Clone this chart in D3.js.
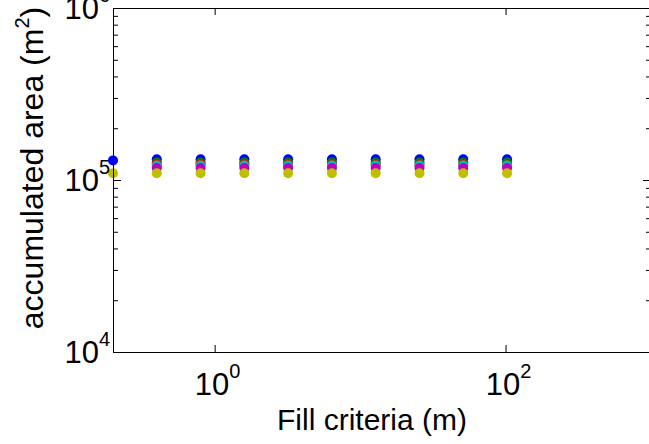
<!DOCTYPE html>
<html>
<head>
<meta charset="utf-8">
<script src="https://cdn.jsdelivr.net/npm/d3@7"></script>
<style>
html, body { margin: 0; padding: 0; background: #fff; overflow: hidden; }
svg text { font-family: "Liberation Sans", Arial, Helvetica, sans-serif; fill: #000; }
</style>
</head>
<body>
<script>
// data: fill criteria (m) vs accumulated area (m^2)
var fill_criteria = [0.2, 0.4, 0.8, 1.6, 3.2, 6.4, 12.8, 25.6, 51.2, 102.4];
var area_blue    = [130000, 132000, 132000, 132000, 132000, 132000, 132000, 132000, 132000, 132000];
var area_green   = [null, 126500, 126500, 126500, 126500, 126500, 126500, 126500, 126500, 126500];
var area_red     = [null, 124000, 124000, 123500, 122500, 122500, 122500, 122500, 122500, 122000];
var area_cyan    = [null, 121500, 121500, 121500, 121500, 121500, 121500, 121500, 121500, 121500];
var area_magenta = [null, 117500, 117500, 117500, 117500, 117500, 117500, 117500, 117500, 117500];
var area_yellow  = [109500, 109500, 109500, 109500, 109500, 109500, 109500, 109500, 109500, 109500];

var series_list = [area_blue, area_green, area_red, area_cyan, area_magenta, area_yellow];
var series_colors = ["#0000ff", "#008000", "#ff0000", "#00bfbf", "#bf00bf", "#bfbf00"];

// ticks
var x_major_ticks = [1, 100];
var y_major_ticks = [1e4, 1e5, 1e6];
var y_minor_ticks = [2e4, 3e4, 4e4, 5e4, 6e4, 7e4, 8e4, 9e4, 2e5, 3e5, 4e5, 5e5, 6e5, 7e5, 8e5, 9e5];

var x_label = "Fill criteria (m)";
var y_label = "accumulated area (m";

// layout
var svg_width = 649;
var svg_height = 444;
var plot_left = 113, plot_right = 651, plot_top = 8, plot_bottom = 352;

var svg = d3.select("body").append("svg")
    .attr("width", svg_width).attr("height", svg_height);

var x = d3.scaleLog().domain([0.2, 1000]).range([plot_left, plot_right]);
var y = d3.scaleLog().domain([1e4, 1e6]).range([plot_bottom, plot_top]);

// points, series drawn in order so later ones sit on top
series_list.forEach(function(vals, si) {
    var pts = fill_criteria.map(function(fc, i) { return [fc, vals[i]]; })
        .filter(function(d) { return d[1] != null; });
    svg.append("g").selectAll("circle")
        .data(pts)
        .enter()
        .append("circle")
        .attr("cx", function(d) { return x(d[0]); })
        .attr("cy", function(d) { return y(d[1]); })
        .attr("r", 5)
        .attr("fill", series_colors[si]);
});

// axes (ticks point inward, like matlab)
function style_axis(g) {
    g.attr("color", "#000");
    g.selectAll("path, line").attr("stroke", "#000").attr("stroke-width", 1);
    g.selectAll("text").remove();
}

svg.append("g").attr("transform", "translate(0," + plot_bottom + ")")
    .call(d3.axisBottom(x).tickValues(x_major_ticks).tickSizeInner(-7).tickSizeOuter(0).tickFormat(""))
    .call(style_axis);
svg.append("g").attr("transform", "translate(0," + plot_top + ")")
    .call(d3.axisTop(x).tickValues(x_major_ticks).tickSizeInner(-7).tickSizeOuter(0).tickFormat(""))
    .call(style_axis);

svg.append("g").attr("transform", "translate(" + plot_left + ",0)")
    .call(d3.axisLeft(y).tickValues(y_major_ticks).tickSizeInner(-8).tickSizeOuter(0).tickFormat(""))
    .call(style_axis);
svg.append("g").attr("transform", "translate(" + plot_left + ",0)")
    .call(d3.axisLeft(y).tickValues(y_minor_ticks).tickSizeInner(-5).tickSizeOuter(0).tickFormat(""))
    .call(style_axis);
svg.append("g").attr("transform", "translate(" + plot_right + ",0)")
    .call(d3.axisRight(y).tickValues(y_major_ticks).tickSizeInner(-8).tickSizeOuter(0).tickFormat(""))
    .call(style_axis);
svg.append("g").attr("transform", "translate(" + plot_right + ",0)")
    .call(d3.axisRight(y).tickValues(y_minor_ticks).tickSizeInner(-5).tickSizeOuter(0).tickFormat(""))
    .call(style_axis);

// tick labels 10^n
function power_label(sel, v) {
    sel.append("tspan").text("10");
    sel.append("tspan").attr("font-size", 20).attr("dy", -17).text(Math.round(Math.log10(v)));
}

x_major_ticks.forEach(function(v) {
    var t = svg.append("text")
        .attr("x", x(v) + 3).attr("y", 395)
        .attr("text-anchor", "middle")
        .attr("font-size", 31);
    power_label(t, v);
});

y_major_ticks.forEach(function(v) {
    var t = svg.append("text")
        .attr("x", 110).attr("y", y(v) + 11)
        .attr("text-anchor", "end")
        .attr("font-size", 31);
    power_label(t, v);
});

// axis labels
svg.append("text")
    .attr("x", 372).attr("y", 430)
    .attr("text-anchor", "middle")
    .attr("font-size", 30)
    .text(x_label);

var yl = svg.append("text")
    .attr("transform", "translate(43,168) rotate(-90)")
    .attr("text-anchor", "middle")
    .attr("font-size", 32);
yl.append("tspan").text(y_label);
yl.append("tspan").attr("font-size", 20).attr("dy", -14).text("2");
yl.append("tspan").attr("dy", 14).text(")");
</script>
</body>
</html>
